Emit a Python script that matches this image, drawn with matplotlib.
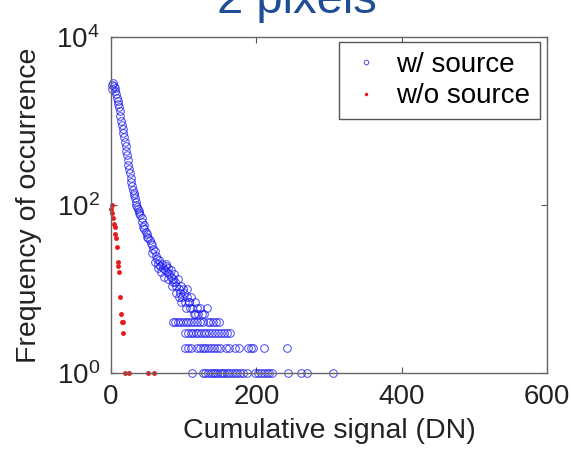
import matplotlib
matplotlib.use("Agg")
import matplotlib.pyplot as plt

plt.rcParams['font.family'] = ['Liberation Sans', 'DejaVu Sans']
plt.rcParams['mathtext.default'] = 'regular'

# w/ source : cumulative signal (DN) and frequency
src_dn = [1, 2, 3, 4, 5, 6, 7, 8, 9, 10, 11, 12, 13, 14, 15, 16, 17, 18, 19, 20,
          21, 22, 23, 24, 25, 26, 27, 28, 29, 30, 31, 32, 33, 34, 35, 36, 37, 38, 39, 40,
          42, 43, 45, 46, 48, 50, 51, 53, 55, 56, 58, 60, 62, 63, 65, 66, 68, 70, 72, 74,
          75, 77, 78, 80, 82, 83, 85, 87, 88, 90, 92, 93, 95, 97, 98, 100, 102, 104, 105, 107,
          109, 110, 112, 114, 116, 118, 120, 122, 125, 128, 132,
          44, 49, 57, 61, 64, 69, 73, 76, 79, 84, 86, 89, 94, 96, 99, 103, 108, 115]
src_freq = [2400, 2700, 2800, 2600, 2500, 2300, 2100, 1900, 1750, 1600, 1450, 1300, 1150, 1000, 900, 800, 720, 640, 560, 500,
            440, 390, 340, 300, 270, 240, 210, 190, 170, 150, 140, 130, 120, 110, 100, 95, 90, 85, 80, 75,
            70, 62, 58, 52, 48, 45, 40, 38, 35, 33, 30, 28, 25, 23, 20, 22, 19, 20, 18, 17,
            19, 16, 18, 15, 17, 14, 13, 15, 12, 11, 13, 10, 9, 11, 8, 9, 7, 8, 10, 7,
            6, 8, 6, 5, 7, 6, 5, 6, 5, 5, 6,
            55, 42, 27, 21, 18, 16, 14, 20, 13, 11, 12, 9, 8, 7, 10, 6, 7, 5]

# tail rows of the w/ source series (frequency 4, 3, 2, 1)
src_dn_f4 = [85, 88, 92, 95, 99, 103, 106, 110, 114, 118, 122, 126, 133, 136, 140, 145, 148]
src_dn_f3 = [102, 106, 110, 113, 117, 120, 124, 128, 131, 135, 139, 143, 147, 152, 156, 160, 164]
src_dn_f2 = [102, 106, 110, 118, 122, 126, 130, 134, 138, 142, 146, 150, 158, 162, 170, 176,
             188, 192, 196, 211, 242]
src_dn_f1 = [111, 127, 130, 133, 137, 140, 143, 146, 150, 153, 156, 160, 163, 167, 170, 174,
             178, 182, 187, 198, 202, 206, 210, 214, 218, 221, 243, 262, 270, 305]

# w/o source
nosrc_dn = [0, 1, 2, 3, 4, 5, 6, 7, 8, 9, 10, 11, 12, 14, 15, 16, 17, 19, 25, 51, 59]
nosrc_freq = [90, 100, 80, 70, 60, 55, 45, 40, 32, 21, 19, 16, 8, 5, 4, 3, 4, 1, 1, 1, 1]

all_dn = src_dn + src_dn_f4 + src_dn_f3 + src_dn_f2 + src_dn_f1
all_freq = (src_freq + [4] * len(src_dn_f4) + [3] * len(src_dn_f3)
            + [2] * len(src_dn_f2) + [1] * len(src_dn_f1))

fig = plt.figure(figsize=(5.71, 4.54), dpi=100)
ax = fig.add_axes([111/571, 1 - 373/454, 436/571, 336/454])

ax.semilogy(all_dn, all_freq, 'o', mfc='none', mec=(0.1, 0.1, 0.95), ms=5.5, mew=0.7,
            alpha=0.8, label='w/ source', clip_on=False)
ax.semilogy(nosrc_dn, nosrc_freq, '.', color=(0.9, 0.1, 0.1), ms=5,
            label='w/o source', clip_on=False)

ax.set_xlim(0, 600)
ax.set_ylim(1, 1e4)
ax.set_xticks([0, 200, 400, 600])
ax.set_yticks([1, 1e2, 1e4])
ax.minorticks_off()
ax.tick_params(direction='in', top=True, right=True, length=4, width=0.8,
               labelsize=20, colors='#555555', labelcolor='#222222', pad=8)
for s in ax.spines.values():
    s.set_color('#666666')
    s.set_linewidth(1.0)

ax.set_xlabel('Cumulative signal (DN)', fontsize=20.5, color='#222222', labelpad=6)
ax.set_ylabel('Frequency of occurrence', fontsize=20.5, color='#222222', labelpad=10)

leg = ax.legend(loc='upper right', bbox_to_anchor=(0.984, 0.985), borderaxespad=0,
                fontsize=20, markerscale=0.6, handlelength=1.2, handletextpad=0.5,
                borderpad=0.35, labelspacing=0.2, fancybox=False, framealpha=1)
leg.get_frame().set_edgecolor('#555555')
leg.get_frame().set_linewidth(1.0)

# title sits partly above the top edge, as in the source slide
fig.text(297/571, 1 - 13/454, '2 pixels', fontsize=34, color='#1F4E96',
         ha='center', va='baseline')

fig.savefig('out.png', dpi=100)
